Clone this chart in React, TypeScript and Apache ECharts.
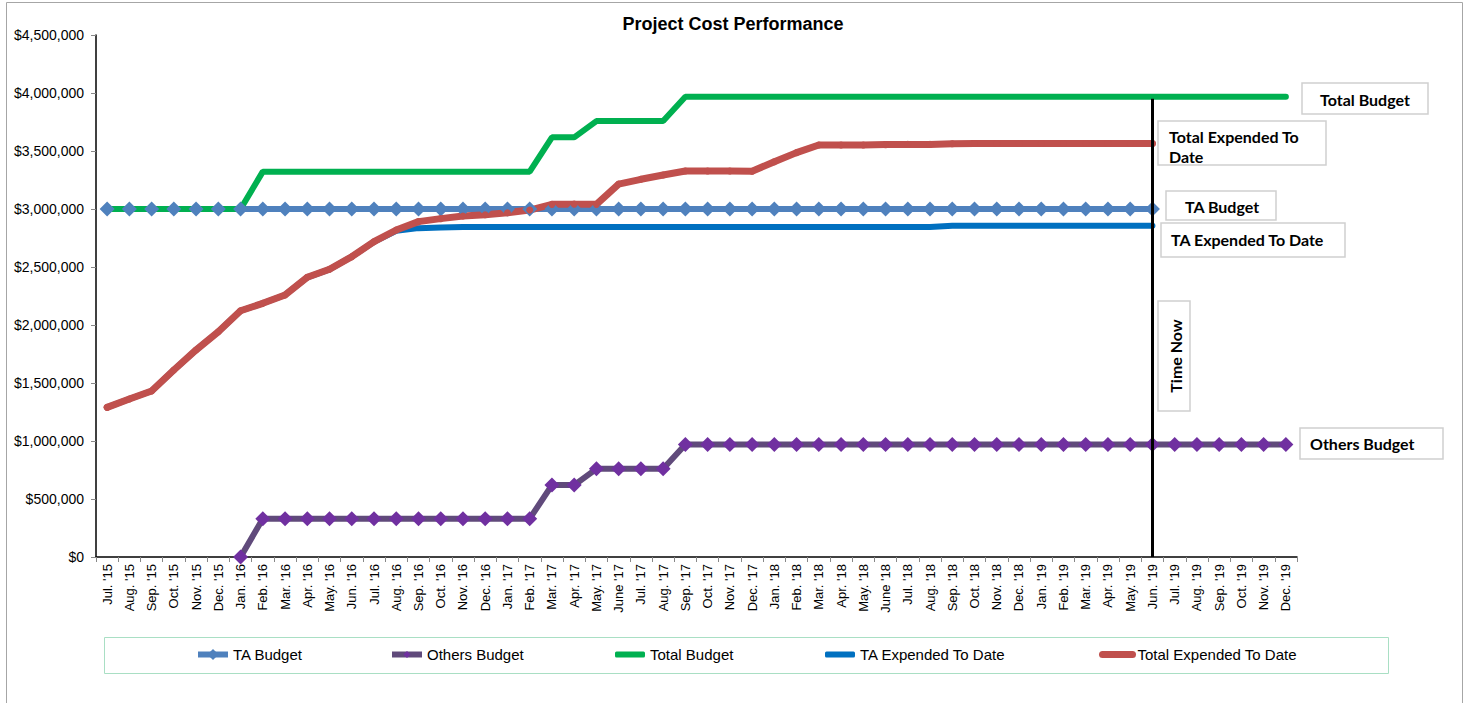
import React, { useEffect, useRef } from "react";
import * as echarts from "echarts";

const categories = ["Jul. '15","Aug. '15","Sep. '15","Oct. '15","Nov. '15","Dec. '15","Jan. '16","Feb. '16","Mar. '16","Apr. '16","May. '16","Jun. '16","Jul. '16","Aug. '16","Sep. '16","Oct. '16","Nov. '16","Dec. '16","Jan. '17","Feb. '17","Mar. '17","Apr. '17","May. '17","June '17","Jul. '17","Aug. '17","Sep. '17","Oct. '17","Nov. '17","Dec. '17","Jan. '18","Feb. '18","Mar. '18","Apr. '18","May. '18","June '18","Jul. '18","Aug. '18","Sep. '18","Oct. '18","Nov. '18","Dec. '18","Jan. '19","Feb. '19","Mar. '19","Apr. '19","May. '19","Jun. '19","Jul. '19","Aug. '19","Sep. '19","Oct. '19","Nov. '19","Dec. '19"];

const taBudget = [3000000,3000000,3000000,3000000,3000000,3000000,3000000,3000000,3000000,3000000,3000000,3000000,3000000,3000000,3000000,3000000,3000000,3000000,3000000,3000000,3000000,3000000,3000000,3000000,3000000,3000000,3000000,3000000,3000000,3000000,3000000,3000000,3000000,3000000,3000000,3000000,3000000,3000000,3000000,3000000,3000000,3000000,3000000,3000000,3000000,3000000,3000000,3000000,null,null,null,null,null,null];

const othersBudget = [null,null,null,null,null,null,0,330000,330000,330000,330000,330000,330000,330000,330000,330000,330000,330000,330000,330000,620000,620000,760000,760000,760000,760000,970000,970000,970000,970000,970000,970000,970000,970000,970000,970000,970000,970000,970000,970000,970000,970000,970000,970000,970000,970000,970000,970000,970000,970000,970000,970000,970000,970000];

const totalBudget = [3000000,3000000,3000000,3000000,3000000,3000000,3000000,3322000,3322000,3322000,3322000,3322000,3322000,3322000,3322000,3322000,3322000,3322000,3322000,3322000,3618000,3618000,3758000,3758000,3758000,3758000,3968000,3968000,3968000,3968000,3968000,3968000,3968000,3968000,3968000,3968000,3968000,3968000,3968000,3968000,3968000,3968000,3968000,3968000,3968000,3968000,3968000,3968000,3968000,3968000,3968000,3968000,3968000,3968000];

const taExpended = [1290000,1362000,1431000,1612000,1785000,1942000,2123000,2187000,2259000,2411000,2480000,2589000,2718000,2812000,2835000,2840000,2845000,2845000,2845000,2845000,2845000,2845000,2845000,2845000,2845000,2845000,2845000,2845000,2845000,2845000,2845000,2845000,2845000,2845000,2845000,2845000,2845000,2845000,2855000,2855000,2855000,2855000,2855000,2855000,2855000,2855000,2855000,2855000,null,null,null,null,null,null];

const totalExpended = [1290000,1362000,1431000,1612000,1785000,1942000,2123000,2187000,2259000,2411000,2480000,2589000,2718000,2819000,2891000,2917000,2940000,2950000,2968000,2991000,3040000,3042000,3040000,3215000,3256000,3293000,3328000,3328000,3328000,3325000,3408000,3486000,3552000,3552000,3552000,3555000,3557000,3557000,3562000,3565000,3565000,3565000,3565000,3565000,3565000,3565000,3565000,3565000,null,null,null,null,null,null];

const timeNowCategory = "Jun. '19";
const yTicks = { min: 0, max: 4500000, interval: 500000 };

const seriesNames = ["TA Budget", "Others Budget", "Total Budget", "TA Expended To Date", "Total Expended To Date"];

const fmtMoney = (v: number) => "$" + v.toString().replace(/\B(?=(\d{3})+(?!\d))/g, ",");

export default function App() {
  const ref = useRef<HTMLDivElement>(null);
  useEffect(() => {
    if (!ref.current) return;
    const chart = echarts.init(ref.current, null, { renderer: "svg" });
    const labelFont = "bold 16px Lato";
    const box = (x: number, y: number, w: number, h: number) => ({
      type: "rect",
      shape: { x, y, width: w, height: h },
      style: { fill: "#fff", stroke: "#D0D0D0", lineWidth: 1.5 },
      z: 10,
    });
    const txt = (x: number, y: number, text: string, extra: any = {}) => ({
      type: "text",
      x,
      y,
      style: { text, font: labelFont, fill: "#000", align: "left", verticalAlign: "middle", ...extra },
      z: 11,
    });
    const legendText = [230, 424, 650, 860, 1134];
    const legendItems: any[] = [
      { icon: undefined, h: 14, lw: 6 },
      { icon: undefined, h: 9, lw: 6 },
      { icon: "roundRect", h: 6, lw: 6 },
      { icon: "roundRect", h: 6, lw: 6 },
      { icon: undefined, h: 8, lw: 7 },
    ];
    const option: any = {
      animation: false,
      backgroundColor: "#fff",
      title: {
        text: "Project Cost Performance",
        left: "center",
        top: 10,
        textStyle: { fontFamily: "Arial, Liberation Sans", fontWeight: "bold", fontSize: 18, color: "#000" },
      },
      grid: { left: 96, right: 169, top: 35, bottom: 146 },
      legend: seriesNames.map((n, i) => ({
        data: [legendItems[i].icon ? { name: n, icon: legendItems[i].icon } : { name: n }],
        left: legendText[i] - 35,
        top: 647,
        padding: 0,
        itemWidth: 30,
        itemHeight: legendItems[i].h,
        lineStyle: { width: legendItems[i].lw },
        textStyle: { fontFamily: "Arial, Liberation Sans", fontSize: 15, color: "#000" },
      })),
      xAxis: {
        type: "category",
        data: categories,
        boundaryGap: true,
        axisLine: { lineStyle: { color: "#000", width: 1.5 } },
        axisTick: { show: true, alignWithLabel: false, length: 5, lineStyle: { color: "#888" } },
        axisLabel: { rotate: 90, interval: 0, fontSize: 13, fontFamily: "Arial, Liberation Sans", color: "#000", margin: 7 },
        splitLine: { show: false },
      },
      yAxis: {
        type: "value",
        min: yTicks.min,
        max: yTicks.max,
        interval: yTicks.interval,
        axisLine: { show: true, lineStyle: { color: "#000", width: 1.5 } },
        axisTick: { show: true, length: 5, lineStyle: { color: "#888" } },
        axisLabel: { formatter: fmtMoney, fontSize: 14, fontFamily: "Arial, Liberation Sans", color: "#000", margin: 12 },
        splitLine: { show: false },
      },
      series: [
        {
          name: "TA Budget",
          type: "line",
          data: taBudget,
          symbol: "diamond",
          symbolSize: 15,
          showAllSymbol: true,
          lineStyle: { color: "#4F81BD", width: 6 },
          itemStyle: { color: "#4F81BD" },
          markLine: {
            silent: true,
            symbol: "none",
            label: { show: false },
            lineStyle: { color: "#000", width: 3, type: "solid" },
            data: [[{ coord: [timeNowCategory, 3950000] }, { coord: [timeNowCategory, 0] }]],
            z: 5,
          },
        },
        {
          name: "Others Budget",
          type: "line",
          data: othersBudget,
          symbol: "diamond",
          symbolSize: 15,
          showAllSymbol: true,
          lineStyle: { color: "#604A7B", width: 6 },
          itemStyle: { color: "#7030A0" },
        },
        {
          name: "Total Budget",
          type: "line",
          data: totalBudget,
          symbol: "none",
          lineStyle: { color: "#00B050", width: 6, cap: "round" },
          itemStyle: { color: "#00B050" },
        },
        {
          name: "TA Expended To Date",
          type: "line",
          data: taExpended,
          symbol: "none",
          lineStyle: { color: "#0070C0", width: 6, cap: "round" },
          itemStyle: { color: "#0070C0" },
        },
        {
          name: "Total Expended To Date",
          type: "line",
          data: totalExpended,
          symbol: "circle",
          symbolSize: 7,
          showAllSymbol: true,
          lineStyle: { color: "#C0504D", width: 7, cap: "round" },
          itemStyle: { color: "#C0504D" },
        },
      ],
      graphic: [
        {
          type: "rect",
          shape: { x: 6.5, y: 2.5, width: 1456, height: 720 },
          style: { fill: "none", stroke: "#A6A6A6", lineWidth: 1 },
          silent: true,
          z: -1,
        },
        {
          type: "rect",
          shape: { x: 104.5, y: 637.5, width: 1284, height: 36 },
          style: { fill: "none", stroke: "#A9DFC4", lineWidth: 1 },
          silent: true,
        },
        box(1302, 83, 126, 31),
        txt(1320, 99, "Total Budget"),
        box(1158, 121, 168, 44),
        txt(1169, 136, "Total Expended To"),
        txt(1169, 156, "Date"),
        box(1166, 191, 110, 29),
        txt(1185, 206, "TA Budget"),
        box(1161, 223, 184, 34),
        txt(1171, 239, "TA Expended To Date"),
        box(1158, 301, 32, 110),
        {
          type: "text",
          x: 1175,
          y: 356,
          rotation: Math.PI / 2,
          style: { text: "Time Now", font: labelFont, fill: "#000", align: "center", verticalAlign: "middle" },
          z: 11,
        },
        box(1300, 428, 143, 31),
        txt(1310, 443, "Others Budget"),
      ],
    };
    chart.setOption(option);
    return () => chart.dispose();
  }, []);
  return <div ref={ref} style={{ position: "fixed", left: 0, top: 0, width: 1466, height: 703 }} />;
}
